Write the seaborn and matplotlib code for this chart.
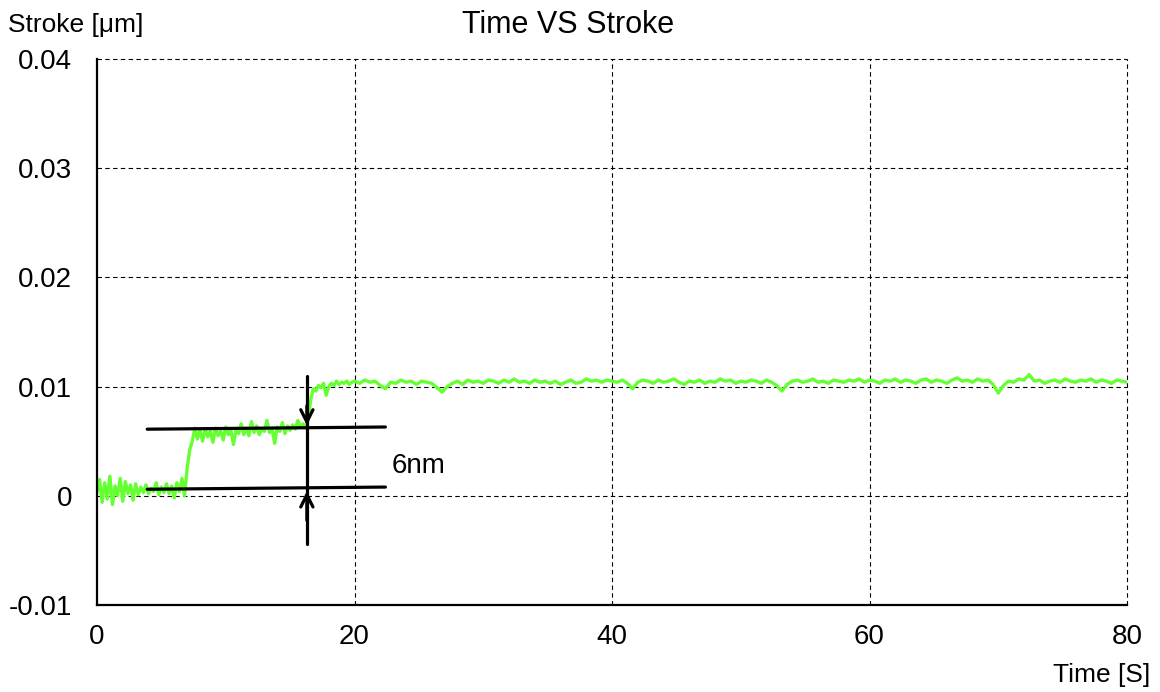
import numpy as np
import pandas as pd
import seaborn as sns
import matplotlib.pyplot as plt

# Stroke readings in nm
# 0 - 20 s, one reading every 0.2 s
stroke_early = [
    0.3, 1.5, -0.6, 1.2, -0.3, 1.8, -0.8, 0.9, 0.0, 1.6,
    -0.5, 1.3, 0.2, 1.0, -0.4, 1.1, 0.1, 0.8, 0.3, 1.0,
    0.2, 0.7, 0.4, 1.2, 0.1, 0.8, 0.3, 1.1, 0.2, 0.9,
    -0.2, 1.2, 0.4, 1.6, 0.0, 2.5, 4.2, 5.0, 6.2, 5.2,
    6.0, 5.0, 6.1, 5.4, 5.9, 4.9, 6.2, 5.5, 5.9, 5.1,
    6.3, 5.6, 6.0, 4.7, 6.1, 5.7, 6.6, 5.6, 6.2, 5.5,
    6.8, 5.8, 6.4, 5.6, 6.1, 5.9, 6.9, 5.8, 6.2, 4.8,
    6.3, 5.9, 6.7, 5.7, 6.4, 6.0, 6.5, 6.1, 6.9, 6.3,
    6.6, 6.2, 7.0, 8.8, 9.8, 9.6, 10.1, 9.9, 10.3, 9.2,
    10.0, 10.3, 10.1, 10.5, 10.2, 10.4, 10.3, 10.5, 10.2, 10.4,
    10.5,
]
# 20.4 - 80 s, one reading every 0.4 s
stroke_late = [
    10.3, 10.6, 10.4, 10.5, 10.1, 9.8, 10.4, 10.3, 10.6, 10.4,
    10.5, 10.2, 10.5, 10.4, 10.3, 9.9, 9.5, 10.0, 10.3, 10.5,
    10.2, 10.6, 10.4, 10.5, 10.3, 10.6, 10.5, 10.3, 10.6, 10.4,
    10.7, 10.4, 10.5, 10.3, 10.6, 10.4, 10.5, 10.3, 10.5, 10.2,
    10.4, 10.6, 10.3, 10.4, 10.7, 10.5, 10.6, 10.4, 10.6, 10.5,
    10.4, 10.6, 10.3, 9.8, 10.4, 10.6, 10.5, 10.3, 10.6, 10.4,
    10.5, 10.7, 10.4, 10.2, 10.5, 10.4, 10.6, 10.3, 10.5, 10.4,
    10.7, 10.5, 10.6, 10.3, 10.5, 10.4, 10.6, 10.5, 10.3, 10.6,
    10.4, 10.1, 9.6, 10.2, 10.5, 10.6, 10.4, 10.5, 10.7, 10.4,
    10.5, 10.3, 10.6, 10.5, 10.4, 10.6, 10.5, 10.7, 10.4, 10.6,
    10.5, 10.3, 10.6, 10.5, 10.7, 10.4, 10.6, 10.5, 10.3, 10.6,
    10.7, 10.4, 10.6, 10.5, 10.3, 10.6, 10.8, 10.5, 10.6, 10.4,
    10.7, 10.5, 10.6, 10.2, 9.4, 10.1, 10.5, 10.4, 10.7, 10.6,
    11.1, 10.5, 10.6, 10.3, 10.5, 10.6, 10.4, 10.7, 10.5, 10.4,
    10.6, 10.5, 10.7, 10.4, 10.6, 10.5, 10.3, 10.6, 10.5, 10.4,
]

# 6nm step marker (levels in nm, times in s)
level_low = [0.6, 0.8]
level_high = [6.1, 6.3]
level_span = [3.9, 22.4]
marker_time = 16.3
marker_ends = [-4.4, 11.0]

y_ticks = [-0.01, 0, 0.01, 0.02, 0.03, 0.04]
y_labels = ['-0.01', '0', '0.01', '0.02', '0.03', '0.04']
x_ticks = [0, 20, 40, 60, 80]

t_early = np.arange(len(stroke_early)) * 0.2
t_late = np.linspace(20.4, 80, len(stroke_late))
df = pd.DataFrame({
    'time': np.concatenate([t_early, t_late]),
    'stroke': np.array(stroke_early + stroke_late) / 1000.0,
})

sns.set_style('white', {'text.color': 'black', 'xtick.color': 'black',
                        'ytick.color': 'black'})
plt.rcParams['font.family'] = ['Liberation Sans', 'DejaVu Sans']

fig = plt.figure(figsize=(11.6, 6.92), dpi=100)
ax = fig.add_axes([97 / 1160, 1 - 605 / 692, 1030 / 1160, 546 / 692])

sns.lineplot(data=df, x='time', y='stroke', color='#66ff33', linewidth=2.4,
             ax=ax, zorder=2)

# step annotation
ax.plot(level_span, np.array(level_high) / 1000, color='black', lw=2.3, zorder=3)
ax.plot(level_span, np.array(level_low) / 1000, color='black', lw=2.3, zorder=3)
ax.plot([marker_time, marker_time], np.array(marker_ends) / 1000,
        color='black', lw=2.3, zorder=3)
ax.annotate('', xy=(marker_time, level_high[0] / 1000 + 0.00008),
            xytext=(marker_time, 0.0085),
            arrowprops=dict(arrowstyle='->', color='black', lw=2.3,
                            mutation_scale=22))
ax.annotate('', xy=(marker_time, level_low[0] / 1000 + 0.00008),
            xytext=(marker_time, -0.0025),
            arrowprops=dict(arrowstyle='->', color='black', lw=2.3,
                            mutation_scale=22))
ax.text(22.9, 0.0027, '6nm', fontsize=20, ha='left', va='center')

ax.set_xlim(0, 80)
ax.set_ylim(-0.01, 0.04)
ax.set_xticks(x_ticks)
ax.set_yticks(y_ticks)
ax.set_yticklabels(y_labels)
ax.tick_params(length=0, labelsize=20)
ax.tick_params(axis='x', pad=14)
ax.tick_params(axis='y', pad=18)
ax.set_xlabel('')
ax.set_ylabel('')

# dashed grid, also standing in for the top and right frame
for xv in x_ticks[1:]:
    ax.axvline(xv, color='black', lw=0.8, ls=(0, (4, 3)), zorder=1,
               clip_on=False)
for yv in y_ticks[1:]:
    ax.axhline(yv, color='black', lw=0.8, ls=(0, (4, 3)), zorder=1,
               clip_on=False)
ax.spines['top'].set_visible(False)
ax.spines['right'].set_visible(False)
for s in ['left', 'bottom']:
    ax.spines[s].set_color('black')
    ax.spines[s].set_linewidth(1.6)
    ax.spines[s].set_zorder(4)

fig.text(568 / 1160, 1 - 25 / 692, 'Time VS Stroke', fontsize=22,
         ha='center', va='center')
fig.text(8 / 1160, 1 - 25 / 692, 'Stroke [μm]', fontsize=19,
         ha='left', va='center')
fig.text(1150 / 1160, 1 - 675 / 692, 'Time [S]', fontsize=19,
         ha='right', va='center')

fig.savefig('out.png', dpi=100)
